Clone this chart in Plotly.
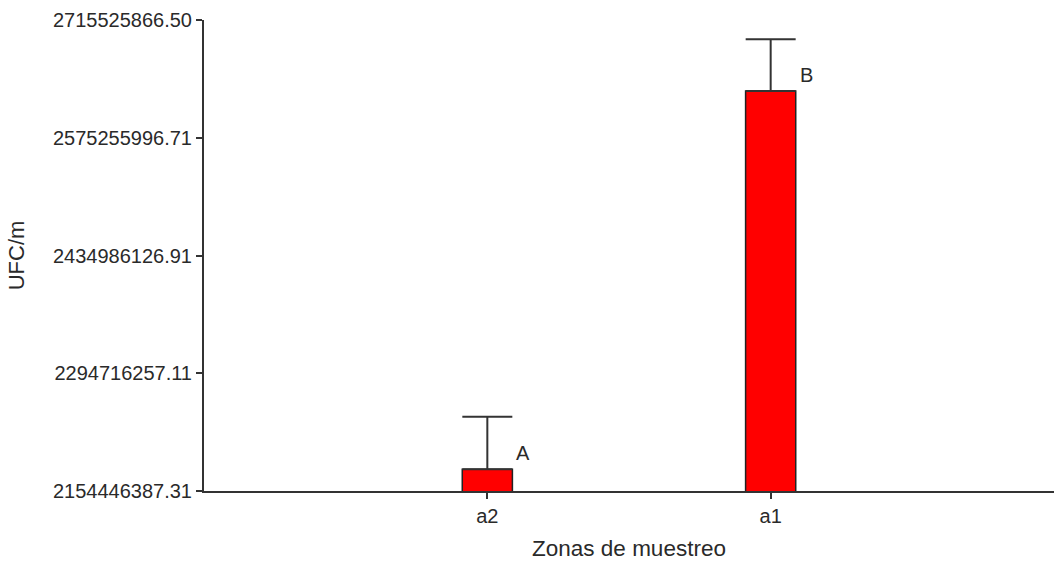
import plotly.graph_objects as go

# Sampling zones, mean counts and their upward error
zonas = ["a2", "a1"]
medias = [2180300000, 2630900000]
errores = [62700000, 61600000]
letras = ["A", "B"]

# Y axis tick values as printed on the axis
y_ticks = [2154446387.31, 2294716257.11, 2434986126.91, 2575255996.71, 2715525866.50]

fig = go.Figure()
fig.add_trace(go.Bar(
    x=zonas,
    y=medias,
    width=0.177,
    marker=dict(color="#ff0000", line=dict(color="#222222", width=1.5)),
    error_y=dict(type="data", array=errores, symmetric=False, arrayminus=[0, 0],
                 color="#333333", thickness=2, width=25),
))

for z, m, e, l in zip(zonas, medias, errores, letras):
    fig.add_annotation(x=z, y=m, text=l, showarrow=False,
                       xshift=36, yshift=16,
                       font=dict(family="Liberation Sans, Arial", size=20, color="#2a2a2a"))

fig.update_layout(
    width=1054, height=567,
    margin=dict(l=204, r=0, t=20, b=76),
    plot_bgcolor="white", paper_bgcolor="white",
    showlegend=False,
    font=dict(family="Liberation Sans, Arial", size=20, color="#2a2a2a"),
    xaxis=dict(
        type="category", range=[-1.0, 2.0],
        showline=True, linecolor="#333333", linewidth=2,
        ticks="outside", ticklen=6, tickwidth=2, tickcolor="#333333",
        showgrid=False, zeroline=False,
        tickfont=dict(size=20, color="#2a2a2a"),
        title=dict(text="Zonas de muestreo", font=dict(size=22.5, color="#2a2a2a"), standoff=14),
    ),
    yaxis=dict(
        range=[y_ticks[0], y_ticks[-1]],
        tickvals=y_ticks, ticktext=[f"{v:.2f}" for v in y_ticks],
        showline=True, linecolor="#333333", linewidth=2,
        ticks="outside", ticklen=6, tickwidth=2, tickcolor="#333333",
        showgrid=False, zeroline=False,
        tickfont=dict(size=20, color="#2a2a2a"),
        title=dict(text="UFC/m", font=dict(size=22, color="#2a2a2a"), standoff=22),
    ),
)

fig.write_html("out.html")
